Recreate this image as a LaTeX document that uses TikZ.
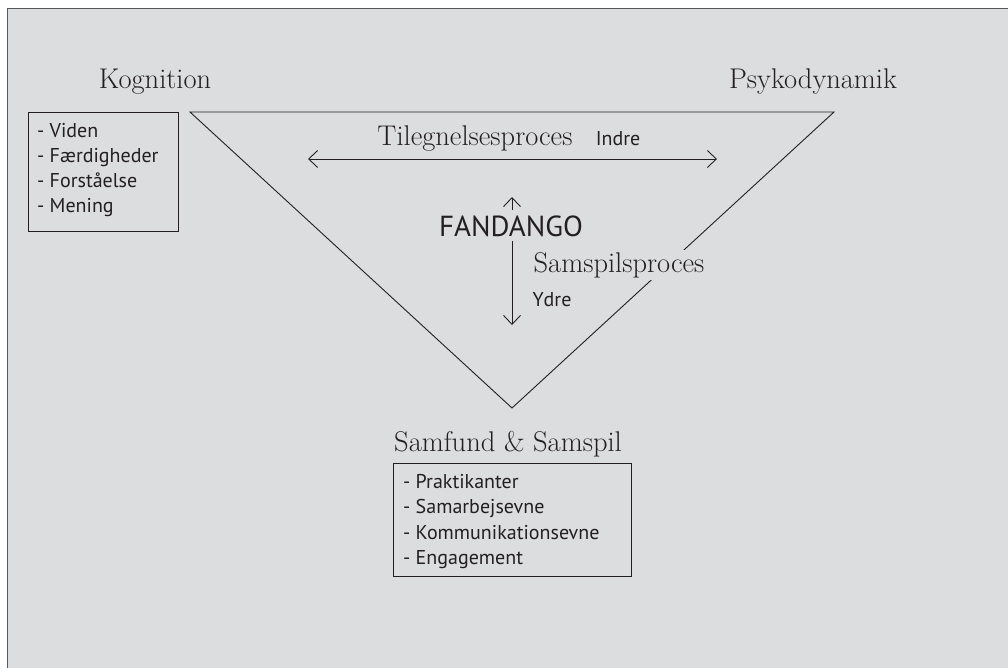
\documentclass[tikz,border=0pt]{standalone}
\usepackage{fontspec}
\newfontfamily\listefont{PT Sans}
\usetikzlibrary{arrows.meta}
\definecolor{baggrund}{RGB}{220,221,223}
\definecolor{streg}{RGB}{35,31,32}

\begin{document}
\begin{tikzpicture}[x=1pt,y=-1pt,
    titel/.style={font=\fontsize{28.5}{30}\selectfont, text=streg, anchor=base},
    sans/.style={font=\listefont\fontsize{20}{22}\selectfont, text=streg, anchor=base},
    liste/.style={font=\listefont\fontsize{20}{25.3}\selectfont, text=streg,
        align=left, anchor=base west, inner sep=0pt},
    pil/.style={draw=streg, line width=0.9pt,
        {Straight Barb[length=9pt,width=17pt]}-{Straight Barb[length=9pt,width=17pt]}}]
    \useasboundingbox (0,0) rectangle (1008,667);
    % Baggrund
    \draw[draw=black!65, line width=1pt, fill=baggrund] (7,8) rectangle (1015,675);
    % Trekant
    \coordinate (venstrehjoerne) at (190,112);
    \coordinate (hoejrehjoerne) at (834,112);
    \coordinate (bund) at (512,408);
    \draw[streg, line width=0.9pt] (venstrehjoerne) -- (hoejrehjoerne) -- (bund) -- cycle;
    % Hjoerner
    \node[titel] (kognition) at (155,88) {Kognition};
    \node[titel] (psykodynamik) at (813,88) {Psykodynamik};
    \node[titel] (samfund) at (508,451) {Samfund \& Samspil};
    % Kasse under Kognition
    \draw[streg, line width=0.9pt] (28,112) rectangle (178,231);
    \node[liste] (viden) at (37,137) {- Viden};
    \node[liste] (faerdigheder) at (37,162) {- F\ae rdigheder};
    \node[liste] (forstaaelse) at (37,187) {- Forst\aa else};
    \node[liste] (mening) at (37,212) {- Mening};
    % Kasse under Samfund
    \draw[streg, line width=0.9pt] (393,463) rectangle (631,576);
    \node[liste] (praktikanter) at (403,488) {- Praktikanter};
    \node[liste] (samarbejde) at (403,513) {- Samarbejsevne};
    \node[liste] (kommunikation) at (403,539) {- Kommunikationsevne};
    \node[liste] (engagement) at (403,564) {- Engagement};
    % Tilegnelsesproces
    \node[titel] (tilegnelse) at (475,145) {Tilegnelsesproces};
    \node[sans] (indre) at (618,145) {Indre};
    \coordinate (venstrepil) at (308,159);
    \coordinate (hoejrepil) at (717,159);
    \draw[pil] (venstrepil) -- (hoejrepil);
    % Samspilsproces
    \coordinate (oppil) at (512,197);
    \coordinate (nedpil) at (512,325);
    \draw[pil] (oppil) -- (nedpil);
    \node[sans, font=\listefont\fontsize{29}{30}\selectfont, fill=baggrund,
        inner ysep=5pt] (fandango) at (511,236) {FANDANGO};
    \node[titel, fill=baggrund, inner sep=2pt] (samspil) at (619,272) {Samspilsproces};
    \node[sans] (ydre) at (552,306) {Ydre};
\end{tikzpicture}
\end{document}
